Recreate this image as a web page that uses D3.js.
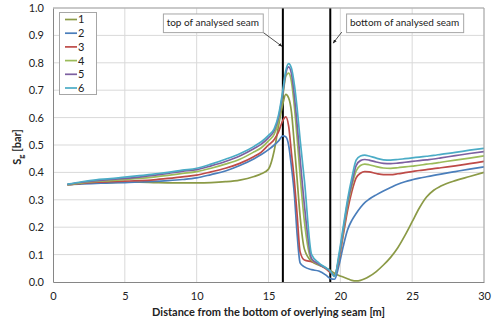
<!DOCTYPE html>
<html lang="en">
<head>
    <meta charset="UTF-8">
    <script src="https://d3js.org/d3.v7.min.js" charset="utf-8"></script>
    <title>Sg profile</title>
    <style>
        body { margin: 0; background: white; }
        text { font-family: Lato, "Open Sans", sans-serif; fill: #222; }
    </style>
</head>
<body>
    <div id="chart"></div>

    <script>
        // distance from the bottom of overlying seam [m]
        const xs = [1, 2, 3, 4, 5, 6, 7, 8, 9, 10, 11, 12, 13, 14, 14.5, 15, 15.4, 15.7,
            16, 16.2, 16.4, 16.6, 16.8, 17, 17.2, 17.5, 18, 18.5, 19, 19.3, 19.6, 19.9,
            20.2, 20.5, 20.8, 21.1, 21.4, 21.7, 22, 22.5, 23, 23.5, 24, 24.5, 25,
            25.5, 26, 26.5, 27, 28, 29, 30];

        // Sg [bar] per series
        const s1 = [0.355, 0.36, 0.362, 0.363, 0.364, 0.364, 0.363, 0.362, 0.362, 0.362, 0.363, 0.366, 0.372, 0.385, 0.395, 0.412, 0.48, 0.57,
            0.65, 0.685, 0.672, 0.62, 0.5, 0.37, 0.24, 0.12, 0.075, 0.062, 0.05, 0.042, 0.032, 0.024,
            0.018, 0.012, 0.006, 0.004, 0.006, 0.012, 0.02, 0.038, 0.062, 0.09, 0.125, 0.17, 0.22,
            0.27, 0.31, 0.335, 0.35, 0.37, 0.385, 0.4];
        const s2 = [0.355, 0.358, 0.36, 0.362, 0.363, 0.365, 0.367, 0.37, 0.374, 0.38, 0.392, 0.405, 0.425, 0.45, 0.465, 0.483, 0.5, 0.515,
            0.533, 0.53, 0.5, 0.42, 0.32, 0.17, 0.07, 0.055, 0.045, 0.04, 0.025, 0.013, 0.01, 0.06,
            0.13, 0.19, 0.225, 0.25, 0.272, 0.29, 0.302, 0.318, 0.332, 0.345, 0.357, 0.366, 0.373,
            0.379, 0.384, 0.389, 0.394, 0.403, 0.412, 0.42];
        const s3 = [0.355, 0.36, 0.364, 0.366, 0.368, 0.37, 0.373, 0.378, 0.384, 0.39, 0.402, 0.415, 0.433, 0.458, 0.474, 0.5, 0.52, 0.548,
            0.59, 0.603, 0.57, 0.47, 0.37, 0.24, 0.11, 0.08, 0.074, 0.065, 0.048, 0.035, 0.025, 0.08,
            0.17, 0.26, 0.33, 0.38, 0.397, 0.403, 0.402, 0.396, 0.392, 0.392, 0.395, 0.399, 0.403,
            0.407, 0.41, 0.414, 0.417, 0.424, 0.432, 0.44];
        const s4 = [0.355, 0.362, 0.367, 0.37, 0.374, 0.378, 0.383, 0.389, 0.396, 0.403, 0.415, 0.43, 0.448, 0.475, 0.49, 0.515, 0.54, 0.585,
            0.68, 0.75, 0.762, 0.73, 0.64, 0.52, 0.39, 0.22, 0.08, 0.065, 0.05, 0.04, 0.025, 0.085,
            0.18, 0.28, 0.35, 0.405, 0.425, 0.43, 0.428, 0.421, 0.416, 0.415, 0.417, 0.42, 0.423,
            0.426, 0.43, 0.433, 0.437, 0.445, 0.452, 0.46];
        const s5 = [0.356, 0.364, 0.37, 0.374, 0.378, 0.383, 0.389, 0.396, 0.404, 0.41, 0.424, 0.44, 0.46, 0.487, 0.503, 0.527, 0.553, 0.6,
            0.69, 0.76, 0.785, 0.76, 0.68, 0.57, 0.45, 0.28, 0.085, 0.065, 0.05, 0.04, 0.022, 0.09,
            0.19, 0.29, 0.36, 0.425, 0.443, 0.447, 0.445, 0.438, 0.433, 0.432, 0.434, 0.437, 0.44,
            0.443, 0.446, 0.449, 0.453, 0.461, 0.469, 0.476];
        const s6 = [0.357, 0.366, 0.373, 0.377, 0.383, 0.388, 0.394, 0.4, 0.408, 0.415, 0.43, 0.448, 0.468, 0.495, 0.512, 0.535, 0.56, 0.61,
            0.7, 0.77, 0.797, 0.78, 0.72, 0.63, 0.52, 0.37, 0.1, 0.07, 0.052, 0.04, 0.02, 0.1,
            0.2, 0.3, 0.38, 0.445, 0.46, 0.463, 0.46, 0.452, 0.446, 0.445, 0.447, 0.45, 0.453,
            0.456, 0.459, 0.462, 0.466, 0.473, 0.481, 0.488];

        const seriesNames = ["1", "2", "3", "4", "5", "6"];
        const seriesValues = [s1, s2, s3, s4, s5, s6];
        const colors = ["#8b9a46", "#4a7ebb", "#be4b48", "#9bbb59", "#7d60a0", "#4bacc6"];

        const xTicks = [0, 5, 10, 15, 20, 25, 30];
        const yTicks = [0, 0.1, 0.2, 0.3, 0.4, 0.5, 0.6, 0.7, 0.8, 0.9, 1.0];
        const seamLines = [16.0, 19.3];

        const width = 493, height = 322;
        const margin = {top: 8, right: 9, bottom: 40, left: 53};

        const svg = d3.select("#chart").append("svg")
            .attr("width", width)
            .attr("height", height);

        const x = d3.scaleLinear().domain([0, 30]).range([margin.left, width - margin.right]);
        const y = d3.scaleLinear().domain([0, 1]).range([height - margin.bottom, margin.top]);

        // grid
        svg.append("g").selectAll("line")
            .data(yTicks.slice(1))
            .join("line")
            .attr("x1", x(0)).attr("x2", x(30))
            .attr("y1", d => y(d)).attr("y2", d => y(d))
            .attr("stroke", "#d9d9d9").attr("stroke-width", 1);
        svg.append("g").selectAll("line")
            .data(xTicks.slice(1))
            .join("line")
            .attr("x1", d => x(d)).attr("x2", d => x(d))
            .attr("y1", y(0)).attr("y2", y(1))
            .attr("stroke", "#d9d9d9").attr("stroke-width", 1);

        // axes
        const xAxis = svg.append("g")
            .attr("transform", `translate(0,${y(0)})`)
            .call(d3.axisBottom(x).tickValues(xTicks).tickSize(0).tickPadding(10).tickFormat(d3.format("d")));
        xAxis.select(".domain").attr("stroke", "#868686");
        xAxis.selectAll("text").attr("font-size", 11).attr("fill", "#222");

        const yAxis = svg.append("g")
            .attr("transform", `translate(${x(0)},0)`)
            .call(d3.axisLeft(y).tickValues(yTicks).tickSize(0).tickPadding(9).tickFormat(d3.format(".1f")));
        yAxis.select(".domain").attr("stroke", "#868686");
        yAxis.selectAll("text").attr("font-size", 11).attr("fill", "#222");

        // seam boundaries
        svg.append("g").selectAll("line")
            .data(seamLines)
            .join("line")
            .attr("x1", d => x(d)).attr("x2", d => x(d))
            .attr("y1", y(0)).attr("y2", y(1))
            .attr("stroke", "#000").attr("stroke-width", 2);

        // curves
        const line = d3.line()
            .x((d, i) => x(xs[i]))
            .y(d => y(d))
            .curve(d3.curveMonotoneX);

        svg.append("g").selectAll("path")
            .data(seriesValues)
            .join("path")
            .attr("d", d => line(d))
            .attr("fill", "none")
            .attr("stroke", (d, i) => colors[i])
            .attr("stroke-width", 1.7)
            .attr("stroke-linejoin", "round");

        // plot border top / right
        svg.append("path")
            .attr("d", `M${x(0)},${y(1)}H${x(30)}V${y(0)}`)
            .attr("fill", "none")
            .attr("stroke", "#a6a6a6");

        // legend
        const legend = svg.append("g");
        legend.append("rect")
            .attr("x", 59.5).attr("y", 12.5).attr("width", 37).attr("height", 82)
            .attr("fill", "white").attr("stroke", "#a6a6a6");
        const rows = legend.selectAll("g.row")
            .data(seriesNames)
            .join("g")
            .attr("class", "row")
            .attr("transform", (d, i) => `translate(0,${19.5 + i * 13.7})`);
        rows.append("line")
            .attr("x1", 65).attr("x2", 77)
            .attr("stroke", (d, i) => colors[i]).attr("stroke-width", 1.7);
        rows.append("text")
            .attr("x", 78).attr("dy", "0.36em")
            .attr("font-size", 11)
            .text(d => d);

        // callouts
        svg.append("defs").append("marker")
            .attr("id", "arrow")
            .attr("viewBox", "0 0 10 10")
            .attr("refX", 9).attr("refY", 5)
            .attr("markerWidth", 5).attr("markerHeight", 5)
            .attr("orient", "auto")
            .append("path").attr("d", "M0,1L10,5L0,9z").attr("fill", "#222");

        const callouts = [
            {label: "top of analysed seam", x0: 7.65, x1: 14.6, from: [14.6, 0.912], to: [15.94, 0.86]},
            {label: "bottom of analysed seam", x0: 20.4, x1: 28.55, from: [20.1, 0.912], to: [19.5, 0.872]}
        ];
        const cg = svg.append("g").selectAll("g")
            .data(callouts)
            .join("g");
        cg.append("line")
            .attr("x1", d => x(d.from[0])).attr("y1", d => y(d.from[1]))
            .attr("x2", d => x(d.to[0])).attr("y2", d => y(d.to[1]))
            .attr("stroke", "#222").attr("stroke-width", 0.8)
            .attr("marker-end", "url(#arrow)");
        cg.append("rect")
            .attr("x", d => x(d.x0) + 0.5).attr("y", y(0.98) + 0.5)
            .attr("width", d => x(d.x1) - x(d.x0)).attr("height", y(0.912) - y(0.98))
            .attr("fill", "white").attr("stroke", "#a6a6a6");
        cg.append("text")
            .attr("x", d => (x(d.x0) + x(d.x1)) / 2).attr("y", y(0.946))
            .attr("dy", "0.35em").attr("text-anchor", "middle")
            .attr("font-size", 10)
            .text(d => d.label);

        // axis titles
        svg.append("text")
            .attr("x", (x(0) + x(30)) / 2).attr("y", 316)
            .attr("text-anchor", "middle")
            .attr("font-size", 11).attr("font-weight", "bold")
            .text("Distance from the bottom of overlying seam [m]");

        const yTitle = svg.append("text")
            .attr("transform", "translate(21,147) rotate(-90)")
            .attr("text-anchor", "middle")
            .attr("font-size", 11).attr("font-weight", "bold");
        yTitle.append("tspan").text("S");
        yTitle.append("tspan").attr("font-size", 8).attr("dy", 3).text("g");
        yTitle.append("tspan").attr("dy", -3).text(" [bar]");
    </script>
</body>
</html>
